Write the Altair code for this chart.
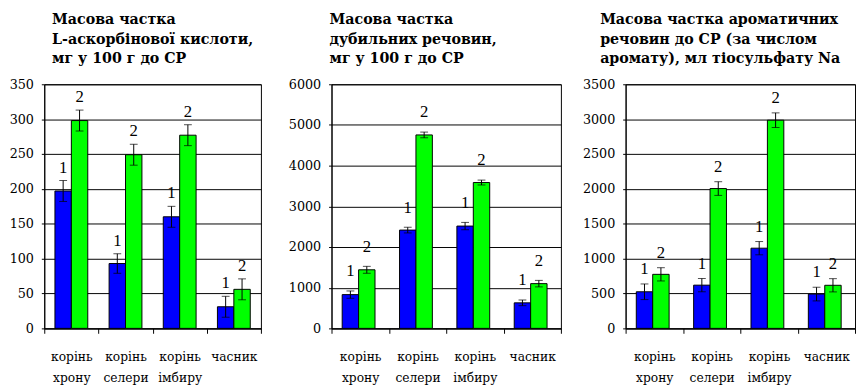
import altair as alt
import pandas as pd

categories = ["корінь хрону", "корінь селери", "корінь імбиру", "часник"]
series = ["1", "2"]

# chart 1: L-ascorbic acid
asc_1 = [197, 93, 160, 31]
asc_2 = [298, 249, 277, 56]
asc_e1 = [15, 14, 15, 15]
asc_e2 = [15, 15, 15, 15]

# chart 2: tannins
tan_1 = [830, 2416, 2515, 628]
tan_2 = [1440, 4755, 3585, 1100]
tan_e1 = [90, 70, 90, 70]
tan_e2 = [85, 70, 60, 80]

# chart 3: aromatic substances
aro_1 = [525, 620, 1150, 492]
aro_2 = [775, 2005, 2985, 618]
aro_e1 = [112, 95, 95, 98]
aro_e2 = [95, 98, 105, 95]

titles = [
    ["Масова частка", "L-аскорбінової кислоти,", "мг у 100 г до СР"],
    ["Масова частка", "дубильних речовин,", "мг у 100 г до СР"],
    ["Масова частка ароматичних", "речовин до СР (за числом", "аромату), мл тіосульфату Na"],
]

FONT = "DejaVu Serif"


def make_df(v1, v2, e1, e2):
    rows = []
    for i, c in enumerate(categories):
        rows.append({"cat": c, "s": "1", "v": v1[i], "lo": v1[i] - e1[i], "hi": v1[i] + e1[i]})
        rows.append({"cat": c, "s": "2", "v": v2[i], "lo": v2[i] - e2[i], "hi": v2[i] + e2[i]})
    return pd.DataFrame(rows)


def panel(df, title, ymax, ystep, width, extent, tdx, tdy):
    xaxis = alt.Axis(labelAngle=0, tickBand="extent", tickSize=5, labelPadding=18,
                     labelExpr="split(datum.label, ' ')", labelLineHeight=21,
                     labelFont=FONT, labelFontSize=12.5, grid=False, title=None)
    xscale = alt.Scale(paddingInner=0, paddingOuter=0)
    yaxis = alt.Axis(values=list(range(0, ymax + 1, ystep)), format="d", labelOverlap=False,
                     tickSize=3, labelPadding=8, title=None,
                     labelFont=FONT, labelFontSize=13, grid=True,
                     minExtent=extent, maxExtent=extent)
    yscale = alt.Scale(domain=[0, ymax], nice=False, zero=True)

    def X():
        return alt.X("cat:N", sort=categories, scale=xscale, axis=xaxis)

    def XO():
        return alt.XOffset("s:N", sort=series, scale=alt.Scale(paddingInner=0, paddingOuter=0.65))

    def Y(f):
        return alt.Y(f, scale=yscale, axis=yaxis)

    base = alt.Chart(df)
    bars = base.mark_bar(stroke="black", strokeWidth=1).encode(
        x=X(), xOffset=XO(), y=Y("v:Q"),
        color=alt.Color("s:N", scale=alt.Scale(domain=series, range=["#0000ff", "#00ff00"]), legend=None),
    )
    rule = base.mark_rule(color="black", strokeWidth=1).encode(
        x=X(), xOffset=XO(), y=Y("lo:Q"), y2="hi:Q")
    cap_lo = base.mark_tick(color="black", size=8, thickness=1, orient="horizontal").encode(
        x=X(), xOffset=XO(), y=Y("lo:Q"))
    cap_hi = base.mark_tick(color="black", size=8, thickness=1, orient="horizontal").encode(
        x=X(), xOffset=XO(), y=Y("hi:Q"))
    txt = base.mark_text(font="Liberation Serif", fontSize=17, baseline="bottom", dy=tdy, color="black").encode(
        x=X(), xOffset=XO(), y=Y("hi:Q"), text="s:N")
    return alt.layer(bars, rule, cap_lo, cap_hi, txt).properties(
        width=width, height=249,
        title=alt.TitleParams(text=title, anchor="start", frame="group", dx=tdx,
                              font=FONT, fontSize=14.5, fontWeight="bold", lineHeight=20,
                              offset=12, color="black"),
    )


c1 = panel(make_df(asc_1, asc_2, asc_e1, asc_e2), titles[0], 350, 50, 221, 34, 8, -4)
c2 = panel(make_df(tan_1, tan_2, tan_e1, tan_e2), titles[1], 6000, 1000, 234, 50, -2, -11)
c3 = panel(make_df(aro_1, aro_2, aro_e1, aro_e2), titles[2], 3500, 500, 234, 42, -26, -6)

chart = alt.hconcat(c1, c2, c3, spacing=20).properties(padding=0).configure_view(
    stroke="black", strokeWidth=1
).configure_axis(
    domainColor="black", tickColor="black", gridColor="black", labelColor="black",
    domainWidth=1, gridWidth=1
).resolve_scale(color="shared")

chart.save("out.html", embed_options={"renderer": "svg", "actions": False})
